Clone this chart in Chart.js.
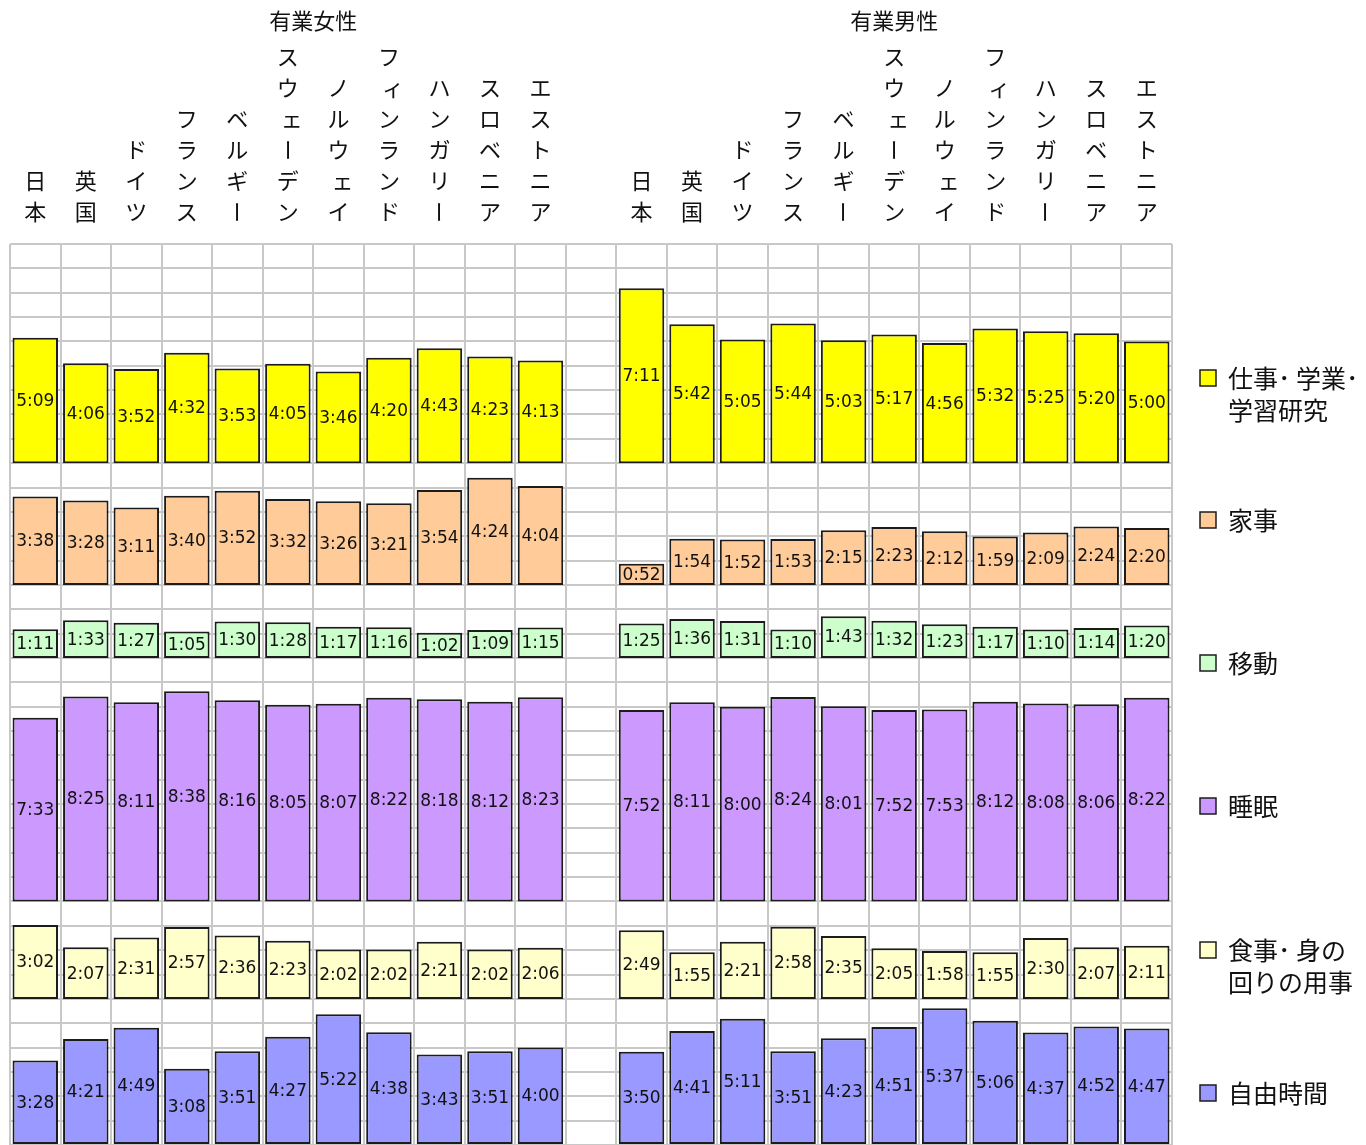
<!DOCTYPE html>
<html>
<head>
<meta charset="utf-8">
<script src="https://cdn.jsdelivr.net/npm/chart.js@4/dist/chart.umd.min.js"></script>
<style>
  html, body { margin: 0; padding: 0; background: #ffffff; overflow: hidden; }
  #wrap { position: relative; width: 1366px; height: 1145px; }
</style>
</head>
<body>
<div id="wrap"><canvas id="chart" width="1366" height="1145"></canvas></div>
<script>
// ---- data ----
const countries = ['日本', '英国', 'ドイツ', 'フランス', 'ベルギー', 'スウェーデン', 'ノルウェイ', 'フィンランド', 'ハンガリー', 'スロベニア', 'エストニア'];
const groupTitles = ['有業女性', '有業男性'];
const activityNames = ['仕事･ 学業･\n学習研究', '家事', '移動', '睡眠', '食事･ 身の\n回りの用事', '自由時間'];

// band floor (hours from the bottom of the grid) for each activity row
const bandFloors = [28, 23, 20, 10, 6, 0];
const gridHours = 37;

const womenWork   = ['5:09', '4:06', '3:52', '4:32', '3:53', '4:05', '3:46', '4:20', '4:43', '4:23', '4:13'];
const womenHouse  = ['3:38', '3:28', '3:11', '3:40', '3:52', '3:32', '3:26', '3:21', '3:54', '4:24', '4:04'];
const womenMove   = ['1:11', '1:33', '1:27', '1:05', '1:30', '1:28', '1:17', '1:16', '1:02', '1:09', '1:15'];
const womenSleep  = ['7:33', '8:25', '8:11', '8:38', '8:16', '8:05', '8:07', '8:22', '8:18', '8:12', '8:23'];
const womenMeal   = ['3:02', '2:07', '2:31', '2:57', '2:36', '2:23', '2:02', '2:02', '2:21', '2:02', '2:06'];
const womenFree   = ['3:28', '4:21', '4:49', '3:08', '3:51', '4:27', '5:22', '4:38', '3:43', '3:51', '4:00'];

const menWork     = ['7:11', '5:42', '5:05', '5:44', '5:03', '5:17', '4:56', '5:32', '5:25', '5:20', '5:00'];
const menHouse    = ['0:52', '1:54', '1:52', '1:53', '2:15', '2:23', '2:12', '1:59', '2:09', '2:24', '2:20'];
const menMove     = ['1:25', '1:36', '1:31', '1:10', '1:43', '1:32', '1:23', '1:17', '1:10', '1:14', '1:20'];
const menSleep    = ['7:52', '8:11', '8:00', '8:24', '8:01', '7:52', '7:53', '8:12', '8:08', '8:06', '8:22'];
const menMeal     = ['2:49', '1:55', '2:21', '2:58', '2:35', '2:05', '1:58', '1:55', '2:30', '2:07', '2:11'];
const menFree     = ['3:50', '4:41', '5:11', '3:51', '4:23', '4:51', '5:37', '5:06', '4:37', '4:52', '4:47'];

// ---- styling ----
const fillColors = ['#FFFF00', '#FFCC99', '#CCFFCC', '#CC99FF', '#FFFFCC', '#9999FF'];
const legendLineY = [378, 520, 663, 806, 950, 1093];
const gridColor = '#c8c8c8';
const barEdge = '#1c1c1c';
const jpFont = '"Noto Sans CJK JP", "Noto Sans", sans-serif';

// ---- assembled series ----
const women = [womenWork, womenHouse, womenMove, womenSleep, womenMeal, womenFree];
const men = [menWork, menHouse, menMove, menSleep, menMeal, menFree];

// 11 women columns, one empty spacer column, 11 men columns
const categories = [...countries, '', ...countries];
const columnText = women.map((w, k) => [...w, null, ...men[k]]);

function toHours(s) {
  const [h, m] = s.split(':').map(Number);
  return h + m / 60;
}

const datasets = columnText.map((row, k) => ({
  label: activityNames[k],
  data: row.map(s => s === null ? null : [bandFloors[k], bandFloors[k] + toHours(s)]),
  backgroundColor: fillColors[k],
  borderColor: barEdge,
  borderWidth: 2,
  borderSkipped: false,
  grouped: false,
  barPercentage: 0.9,
  categoryPercentage: 1.0
}));

// value text in the middle of every bar
const valueLabels = {
  id: 'valueLabels',
  afterDatasetsDraw(chart) {
    const ctx = chart.ctx;
    ctx.save();
    ctx.font = '17px "DejaVu Sans", sans-serif';
    ctx.fillStyle = '#111111';
    ctx.textAlign = 'center';
    ctx.textBaseline = 'middle';
    chart.data.datasets.forEach((ds, d) => {
      const meta = chart.getDatasetMeta(d);
      meta.data.forEach((bar, i) => {
        const txt = columnText[d][i];
        if (txt === null) return;
        const p = bar.getProps(['x', 'y', 'base'], true);
        ctx.fillText(txt, p.x, (p.y + p.base) / 2 + 1);
      });
    });
    ctx.restore();
  }
};

// group titles, vertical country names and the activity key
const SMALL_KANA = 'ァィゥェォッャュョ';
const frame = {
  id: 'frame',
  afterDraw(chart) {
    const ctx = chart.ctx;
    const xs = chart.scales.x;
    ctx.save();
    ctx.fillStyle = '#111111';
    ctx.textAlign = 'center';
    ctx.textBaseline = 'middle';

    // group titles
    ctx.font = '22px ' + jpFont;
    const womenMid = (xs.getPixelForValue(5) + xs.getPixelForValue(6)) / 2;
    const menMid = xs.getPixelForValue(17);
    ctx.fillText(groupTitles[0], womenMid, 21);
    ctx.fillText(groupTitles[1], menMid, 21);

    // vertical country names, bottom aligned
    ctx.font = '22px ' + jpFont;
    const bottomY = 212, pitch = 31;
    categories.forEach((name, i) => {
      if (!name) return;
      const cx = xs.getPixelForValue(i);
      const chars = Array.from(name);
      chars.forEach((ch, k) => {
        const cy = bottomY - (chars.length - 1 - k) * pitch;
        if (ch === 'ー') {
          ctx.save();
          ctx.translate(cx, cy);
          ctx.rotate(Math.PI / 2);
          ctx.fillText(ch, 0, 0);
          ctx.restore();
        } else if (SMALL_KANA.includes(ch)) {
          ctx.fillText(ch, cx + 4, cy);
        } else {
          ctx.fillText(ch, cx, cy);
        }
      });
    });

    // activity key
    ctx.textAlign = 'left';
    ctx.font = '25px ' + jpFont;
    activityNames.forEach((name, k) => {
      const y = legendLineY[k];
      ctx.fillStyle = fillColors[k];
      ctx.fillRect(1200, y - 8, 16, 16);
      ctx.strokeStyle = barEdge;
      ctx.lineWidth = 1.5;
      ctx.strokeRect(1200, y - 8, 16, 16);
      ctx.fillStyle = '#111111';
      name.split('\n').forEach((line, j) => {
        ctx.fillText(line, 1228, y + j * 32);
      });
    });
    ctx.restore();
  }
};

new Chart(document.getElementById('chart'), {
  type: 'bar',
  data: { labels: categories, datasets },
  options: {
    responsive: false,
    animation: false,
    layout: { padding: { left: 10, right: 194, top: 244, bottom: 0 } },
    plugins: { legend: { display: false }, tooltip: { enabled: false } },
    scales: {
      x: {
        offset: true,
        grid: { offset: true, color: gridColor, lineWidth: 2, drawTicks: false },
        ticks: { display: false },
        border: { display: false }
      },
      y: {
        min: 0,
        max: gridHours,
        ticks: { display: false, stepSize: 1 },
        grid: { color: gridColor, lineWidth: 2, drawTicks: false },
        border: { display: false }
      }
    }
  },
  plugins: [valueLabels, frame]
});
</script>
</body>
</html>
